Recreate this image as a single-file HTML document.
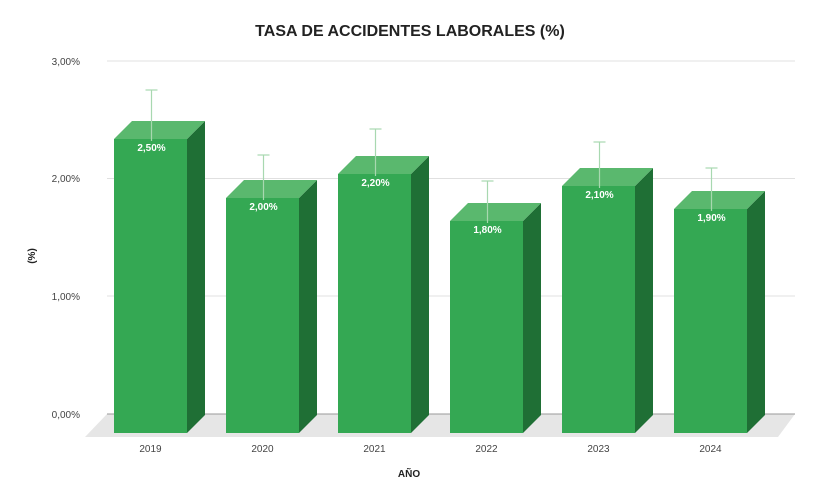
<!DOCTYPE html>
<html><head><meta charset="utf-8"><style>body{margin:0;background:#fff}svg{display:block;font-family:"Liberation Sans",sans-serif}</style></head><body>
<svg width="818" height="500" xmlns="http://www.w3.org/2000/svg">
<text x="410" y="36" text-anchor="middle" font-size="16" font-weight="bold" fill="#222">TASA DE ACCIDENTES LABORALES (%)</text>
<polygon points="107,414 795,414 778,437 85,437" fill="#e6e6e6"/>
<g stroke="#e0e0e0" stroke-width="1">
<line x1="107" y1="61" x2="795" y2="61"/><line x1="107" y1="178.5" x2="795" y2="178.5"/><line x1="107" y1="296" x2="795" y2="296"/></g>
<line x1="107" y1="414" x2="795" y2="414" stroke="#999" stroke-width="1"/>
<g font-size="10" fill="#444" text-anchor="end">
<text x="80" y="65">3,00%</text><text x="80" y="182">2,00%</text><text x="80" y="300">1,00%</text><text x="80" y="418">0,00%</text></g>
<text transform="translate(35,256) rotate(-90)" text-anchor="middle" font-size="10" font-weight="bold" fill="#222">(%)</text>
<text x="409" y="477" text-anchor="middle" font-size="10" font-weight="bold" fill="#222">AÑO</text>

<g>
<polygon points="187,139 205,121 205,415 187,433" fill="#1f6f35"/>
<polygon points="114,139 132,121 205,121 187,139" fill="#5ab86e"/>
<rect x="114" y="139" width="73" height="294" fill="#34a853"/>
<line x1="151.5" y1="90" x2="151.5" y2="141" stroke="#a8d8b0" stroke-width="1.2"/>
<line x1="145.5" y1="90" x2="157.5" y2="90" stroke="#a8d8b0" stroke-width="1.2"/>
<text x="151.5" y="151" text-anchor="middle" font-size="10" font-weight="bold" fill="#fff">2,50%</text>
<text x="150.5" y="452" text-anchor="middle" font-size="10" fill="#444">2019</text>
</g>
<g>
<polygon points="299,198 317,180 317,415 299,433" fill="#1f6f35"/>
<polygon points="226,198 244,180 317,180 299,198" fill="#5ab86e"/>
<rect x="226" y="198" width="73" height="235" fill="#34a853"/>
<line x1="263.5" y1="155" x2="263.5" y2="200" stroke="#a8d8b0" stroke-width="1.2"/>
<line x1="257.5" y1="155" x2="269.5" y2="155" stroke="#a8d8b0" stroke-width="1.2"/>
<text x="263.5" y="210" text-anchor="middle" font-size="10" font-weight="bold" fill="#fff">2,00%</text>
<text x="262.5" y="452" text-anchor="middle" font-size="10" fill="#444">2020</text>
</g>
<g>
<polygon points="411,174 429,156 429,415 411,433" fill="#1f6f35"/>
<polygon points="338,174 356,156 429,156 411,174" fill="#5ab86e"/>
<rect x="338" y="174" width="73" height="259" fill="#34a853"/>
<line x1="375.5" y1="129" x2="375.5" y2="176" stroke="#a8d8b0" stroke-width="1.2"/>
<line x1="369.5" y1="129" x2="381.5" y2="129" stroke="#a8d8b0" stroke-width="1.2"/>
<text x="375.5" y="186" text-anchor="middle" font-size="10" font-weight="bold" fill="#fff">2,20%</text>
<text x="374.5" y="452" text-anchor="middle" font-size="10" fill="#444">2021</text>
</g>
<g>
<polygon points="523,221 541,203 541,415 523,433" fill="#1f6f35"/>
<polygon points="450,221 468,203 541,203 523,221" fill="#5ab86e"/>
<rect x="450" y="221" width="73" height="212" fill="#34a853"/>
<line x1="487.5" y1="181" x2="487.5" y2="223" stroke="#a8d8b0" stroke-width="1.2"/>
<line x1="481.5" y1="181" x2="493.5" y2="181" stroke="#a8d8b0" stroke-width="1.2"/>
<text x="487.5" y="233" text-anchor="middle" font-size="10" font-weight="bold" fill="#fff">1,80%</text>
<text x="486.5" y="452" text-anchor="middle" font-size="10" fill="#444">2022</text>
</g>
<g>
<polygon points="635,186 653,168 653,415 635,433" fill="#1f6f35"/>
<polygon points="562,186 580,168 653,168 635,186" fill="#5ab86e"/>
<rect x="562" y="186" width="73" height="247" fill="#34a853"/>
<line x1="599.5" y1="142" x2="599.5" y2="188" stroke="#a8d8b0" stroke-width="1.2"/>
<line x1="593.5" y1="142" x2="605.5" y2="142" stroke="#a8d8b0" stroke-width="1.2"/>
<text x="599.5" y="198" text-anchor="middle" font-size="10" font-weight="bold" fill="#fff">2,10%</text>
<text x="598.5" y="452" text-anchor="middle" font-size="10" fill="#444">2023</text>
</g>
<g>
<polygon points="747,209 765,191 765,415 747,433" fill="#1f6f35"/>
<polygon points="674,209 692,191 765,191 747,209" fill="#5ab86e"/>
<rect x="674" y="209" width="73" height="224" fill="#34a853"/>
<line x1="711.5" y1="168" x2="711.5" y2="211" stroke="#a8d8b0" stroke-width="1.2"/>
<line x1="705.5" y1="168" x2="717.5" y2="168" stroke="#a8d8b0" stroke-width="1.2"/>
<text x="711.5" y="221" text-anchor="middle" font-size="10" font-weight="bold" fill="#fff">1,90%</text>
<text x="710.5" y="452" text-anchor="middle" font-size="10" fill="#444">2024</text>
</g>
</svg>
</body></html>
